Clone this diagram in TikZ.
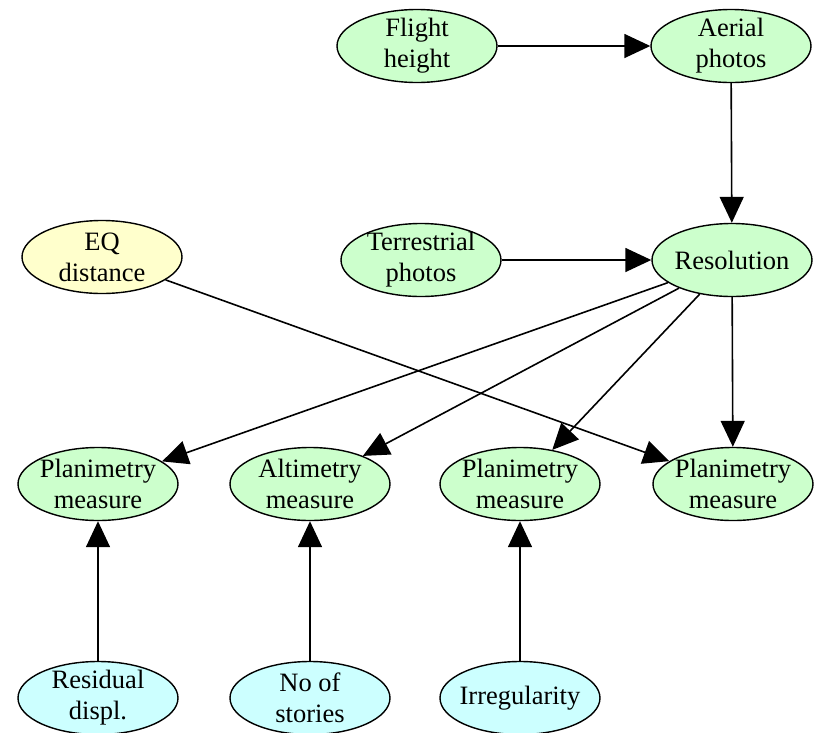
\documentclass[tikz,border=0pt]{standalone}
\usepackage{fontspec}
\setmainfont{Liberation Serif}
\usetikzlibrary{shapes.geometric,arrows.meta}
\definecolor{gfill}{HTML}{CCFFCC}
\definecolor{yfill}{HTML}{FFFFCC}
\definecolor{cfill}{HTML}{CCFFFF}
\tikzset{
  ell/.style={ellipse,draw=black,line width=1.4pt,minimum width=160pt,minimum height=73pt,inner xsep=-14pt,inner ysep=-12pt,align=center,font=\fontsize{26.5}{31}\selectfont},
  gnode/.style={ell,fill=gfill},
  ynode/.style={ell,fill=yfill},
  cnode/.style={ell,fill=cfill},
  conn/.style={line width=1.6pt,-{Triangle[length=26pt,width=24pt]}}
}
\begin{document}
\begin{tikzpicture}[x=1pt,y=-1pt]
\useasboundingbox (0,0) rectangle (815,732);
\node[gnode] (flight) at (417,46) {Flight\\height};
\node[gnode] (aerial) at (731,46) {Aerial\\photos};
\node[ynode] (eq) at (102,257) {EQ\\distance};
\node[gnode] (terr) at (421,260) {Terrestrial\\photos};
\node[gnode] (res) at (732,260) {Resolution};
\node[gnode] (p1) at (98,484) {Planimetry\\measure};
\node[gnode] (alt) at (310,484) {Altimetry\\measure};
\node[gnode] (p3) at (520,484) {Planimetry\\measure};
\node[gnode] (p4) at (733,484) {Planimetry\\measure};
\node[cnode] (resid) at (98,698) {Residual\\displ.};
\node[cnode] (stories) at (310,698) {No of\\stories};
\node[cnode] (irr) at (520,698) {Irregularity};
\draw[conn] (flight) -- (aerial);
\draw[conn] (aerial) -- (res);
\draw[conn] (terr) -- (res);
\draw[conn] (res) -- (p1);
\draw[conn] (res) -- (alt);
\draw[conn] (res) -- (p3);
\draw[conn] (res) -- (p4);
\draw[conn] (eq) -- (p4);
\draw[conn] (resid) -- (p1);
\draw[conn] (stories) -- (alt);
\draw[conn] (irr) -- (p3);
\end{tikzpicture}
\end{document}
